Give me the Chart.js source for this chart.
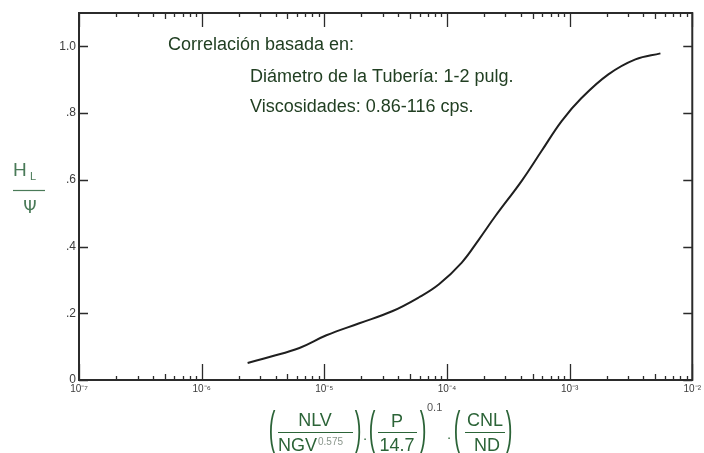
<!DOCTYPE html>
<html>
<head>
<meta charset="utf-8">
<title>Correlación de Hagedorn y Brown</title>
<script src="https://cdn.jsdelivr.net/npm/chart.js@4.4.1/dist/chart.umd.min.js"></script>
<style>
  html, body { margin: 0; padding: 0; background: #ffffff; }
  #wrap { width: 704px; height: 453px; position: relative; }
</style>
</head>
<body>
<div id="wrap"><canvas id="chart" width="704" height="453"></canvas></div>
<script>
// Abscissa: (NLV / NGV^0.575) · (P/14.7)^0.1 · (CNL/ND)
const flowGroup = [2.37e-6, 3.57e-6, 6.27e-6, 1.04e-5, 1.93e-5, 3.57e-5, 5.92e-5, 8.61e-5,
                   1.32e-4, 1.82e-4, 2.50e-4, 4.07e-4, 5.92e-4, 8.61e-4, 1.25e-3, 2.07e-3, 3.44e-3, 5.50e-3];
// Ordinate: HL / Ψ
const holdupRatio = [0.051, 0.069, 0.096, 0.134, 0.170, 0.206, 0.248, 0.287,
                     0.352, 0.421, 0.493, 0.597, 0.687, 0.776, 0.845, 0.916, 0.961, 0.979];

const xDecades = [-7, -6, -5, -4, -3, -2];
const xTickLabels = ['10⁻⁷', '10⁻⁶', '10⁻⁵', '10⁻⁴', '10⁻³', '10⁻²'];
const yTicks = [0, 0.2, 0.4, 0.6, 0.8, 1.0];
const yTickLabels = ['0', '.2', '.4', '.6', '.8', '1.0'];

const noteLines = [
  'Correlación basada en:',
  'Diámetro de la Tubería: 1-2 pulg.',
  'Viscosidades: 0.86-116 cps.'
];

const INK = '#2b2b2b';

function logTicks() {
  const list = [];
  for (let i = 0; i < xDecades.length; i++) {
    const e = xDecades[i];
    const base = Math.pow(10, e);
    if (i === xDecades.length - 1) { list.push({ value: base, major: true }); break; }
    for (let m = 1; m <= 9; m++) list.push({ value: m * base, major: m === 1 });
  }
  return list;
}

function mantissa(v) {
  const e = Math.floor(Math.log10(v) + 1e-9);
  return Math.round(v / Math.pow(10, e));
}

const framePlugin = {
  id: 'frameAndMarks',
  afterDraw(chart) {
    const ctx = chart.ctx;
    const a = chart.chartArea;
    const xs = chart.scales.x, ys = chart.scales.y;
    ctx.save();
    ctx.strokeStyle = INK;
    ctx.lineCap = 'butt';

    // inward tick marks on all four sides
    ctx.lineWidth = 1.3;
    xs.ticks.forEach(t => {
      const px = Math.round(xs.getPixelForValue(t.value)) + 0.5;
      const m = mantissa(t.value);
      const lenB = m === 1 ? 16 : (m === 5 ? 6 : 4);
      const lenT = m === 1 ? 14 : (m === 5 ? 6 : 4);
      ctx.beginPath();
      ctx.moveTo(px, a.bottom); ctx.lineTo(px, a.bottom - lenB);
      ctx.moveTo(px, a.top); ctx.lineTo(px, a.top + lenT);
      ctx.stroke();
    });
    ys.ticks.forEach(t => {
      const py = Math.round(ys.getPixelForValue(t.value)) + 0.5;
      ctx.beginPath();
      ctx.moveTo(a.left, py); ctx.lineTo(a.left + 9, py);
      ctx.moveTo(a.right, py); ctx.lineTo(a.right - 9, py);
      ctx.stroke();
    });

    // frame
    ctx.lineWidth = 2;
    ctx.strokeRect(a.left, a.top, a.right - a.left, a.bottom - a.top);

    // notes inside the plot
    ctx.fillStyle = '#213f22';
    ctx.font = '18px "Liberation Sans", Arial, sans-serif';
    ctx.textBaseline = 'middle';
    ctx.textAlign = 'left';
    ctx.fillText(noteLines[0], 168, 45);
    ctx.fillText(noteLines[1], 250, 77);
    ctx.fillText(noteLines[2], 250, 107);

    // y-axis title: HL over Ψ
    ctx.fillStyle = '#4a7a58';
    ctx.strokeStyle = '#4a7a58';
    ctx.font = '19px "Liberation Sans", Arial, sans-serif';
    ctx.fillText('H', 13, 171);
    ctx.font = '11px "Liberation Sans", Arial, sans-serif';
    ctx.fillText('L', 30, 177);
    ctx.lineWidth = 1.2;
    ctx.beginPath(); ctx.moveTo(13, 190.5); ctx.lineTo(45, 190.5); ctx.stroke();
    ctx.textAlign = 'center';
    ctx.font = '17px "DejaVu Sans", "Liberation Sans", sans-serif';
    ctx.fillText('Ψ', 30, 209);

    // x-axis title formula
    const green = '#2c6438';
    ctx.fillStyle = green;
    ctx.strokeStyle = green;
    const paren = (ch, x) => {
      ctx.save();
      ctx.translate(x, 431);
      ctx.scale(1, 2.3);
      ctx.font = '20px "Liberation Sans", Arial, sans-serif';
      ctx.textAlign = 'center';
      ctx.textBaseline = 'middle';
      ctx.fillText(ch, 0, 0);
      ctx.restore();
    };
    const bar = (x1, x2) => {
      ctx.lineWidth = 1.2;
      ctx.beginPath(); ctx.moveTo(x1, 432.5); ctx.lineTo(x2, 432.5); ctx.stroke();
    };
    ctx.font = '18px "Liberation Sans", Arial, sans-serif';
    ctx.textAlign = 'center';
    paren('(', 272); paren(')', 358);
    ctx.fillText('NLV', 315, 421);
    bar(278, 353);
    ctx.textAlign = 'left';
    ctx.fillText('NGV', 278, 446);
    ctx.fillStyle = '#8a968c';
    ctx.font = '10px "Liberation Sans", Arial, sans-serif';
    ctx.fillText('0.575', 318, 442);

    ctx.fillStyle = green;
    ctx.font = '14px "Liberation Sans", Arial, sans-serif';
    ctx.textAlign = 'center';
    ctx.fillText('·', 365, 439);

    paren('(', 372); paren(')', 423);
    ctx.font = '18px "Liberation Sans", Arial, sans-serif';
    ctx.fillText('P', 397, 422);
    bar(378, 417);
    ctx.fillText('14.7', 397, 446);
    ctx.fillStyle = '#555555';
    ctx.font = '11px "Liberation Sans", Arial, sans-serif';
    ctx.textAlign = 'left';
    ctx.fillText('0.1', 427, 408);

    ctx.fillStyle = green;
    ctx.font = '14px "Liberation Sans", Arial, sans-serif';
    ctx.textAlign = 'center';
    ctx.fillText('·', 449, 438);

    paren('(', 457); paren(')', 509);
    ctx.font = '18px "Liberation Sans", Arial, sans-serif';
    ctx.fillText('CNL', 485, 421);
    bar(465, 505);
    ctx.fillText('ND', 487, 446);

    ctx.restore();
  }
};

new Chart(document.getElementById('chart'), {
  type: 'line',
  data: {
    datasets: [{
      data: flowGroup.map((x, i) => ({ x: x, y: holdupRatio[i] })),
      borderColor: '#1f1f1f',
      borderWidth: 2,
      pointRadius: 0,
      fill: false,
      tension: 0.4
    }]
  },
  options: {
    responsive: false,
    animation: false,
    devicePixelRatio: 1,
    layout: { padding: { top: 13, right: 10, left: 0, bottom: 0 } },
    plugins: { legend: { display: false }, tooltip: { enabled: false } },
    scales: {
      x: {
        type: 'logarithmic',
        min: 1e-7,
        max: 1e-2,
        position: 'bottom',
        afterBuildTicks: (s) => { s.ticks = logTicks(); },
        afterFit: (s) => { s.height = 73; },
        grid: { display: false, drawTicks: false },
        border: { display: false },
        ticks: {
          autoSkip: false,
          maxRotation: 0,
          padding: 3,
          color: '#3c3c3c',
          font: { size: 10, family: '"Liberation Sans", Arial, sans-serif' },
          callback: (v) => {
            const e = Math.log10(v);
            const k = xDecades.indexOf(Math.round(e));
            return (Math.abs(e - Math.round(e)) < 1e-6 && k >= 0) ? xTickLabels[k] : '';
          }
        }
      },
      y: {
        type: 'linear',
        min: 0,
        max: 1.1,
        afterBuildTicks: (s) => { s.ticks = yTicks.map(v => ({ value: v })); },
        afterFit: (s) => { s.width = 79; },
        grid: { display: false, drawTicks: false },
        border: { display: false },
        ticks: {
          padding: 3,
          color: '#3c3c3c',
          font: { size: 12, family: '"Liberation Sans", Arial, sans-serif' },
          callback: (v) => {
            const k = yTicks.findIndex(t => Math.abs(t - v) < 1e-9);
            return k >= 0 ? yTickLabels[k] : '';
          }
        }
      }
    }
  },
  plugins: [framePlugin]
});
</script>
</body>
</html>
